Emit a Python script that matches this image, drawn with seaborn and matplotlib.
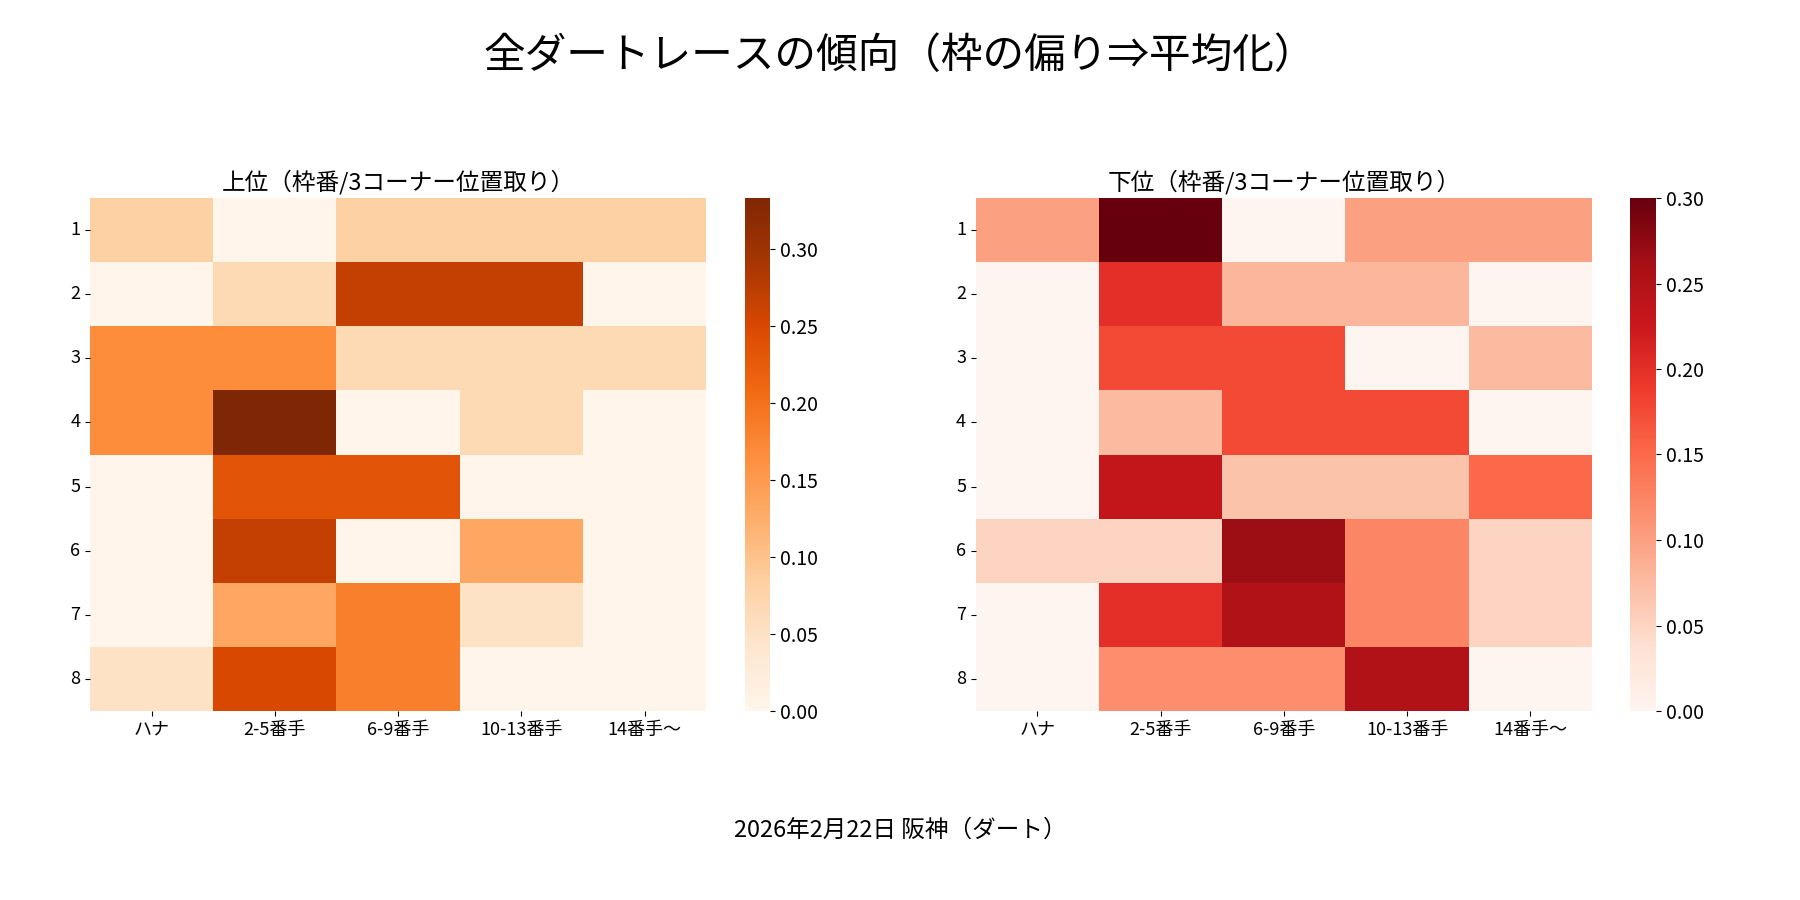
import numpy as np
import pandas as pd
import matplotlib
matplotlib.use('Agg')
import matplotlib.pyplot as plt
import seaborn as sns

# データ
gates = ['1', '2', '3', '4', '5', '6', '7', '8']
positions = ['ハナ', '2-5番手', '6-9番手', '10-13番手', '14番手〜']

upper_vals = [
    [0.083, 0.0, 0.083, 0.083, 0.083],
    [0.0, 0.067, 0.267, 0.267, 0.0],
    [0.167, 0.167, 0.067, 0.067, 0.067],
    [0.167, 0.333, 0.0, 0.067, 0.0],
    [0.0, 0.233, 0.233, 0.0, 0.0],
    [0.0, 0.267, 0.0, 0.133, 0.0],
    [0.0, 0.133, 0.183, 0.05, 0.0],
    [0.05, 0.25, 0.183, 0.0, 0.0],
]
lower_vals = [
    [0.1, 0.3, 0.0, 0.1, 0.1],
    [0.0, 0.2, 0.08, 0.08, 0.0],
    [0.0, 0.175, 0.175, 0.0, 0.075],
    [0.0, 0.075, 0.175, 0.175, 0.0],
    [0.0, 0.233, 0.067, 0.067, 0.15],
    [0.05, 0.05, 0.267, 0.125, 0.05],
    [0.0, 0.2, 0.25, 0.125, 0.05],
    [0.0, 0.117, 0.117, 0.25, 0.0],
]

df_up = pd.DataFrame(upper_vals, index=gates, columns=positions)
df_low = pd.DataFrame(lower_vals, index=gates, columns=positions)

plt.rcParams['font.family'] = ['Noto Sans CJK JP', 'DejaVu Sans']

fig, axes = plt.subplots(1, 2, figsize=(18, 9), dpi=100)
sns.heatmap(df_up, cmap='Oranges', ax=axes[0], vmin=0)
sns.heatmap(df_low, cmap='Reds', ax=axes[1], vmin=0)

axes[0].set_title('上位（枠番/3コーナー位置取り）', fontsize=17)
axes[1].set_title('下位（枠番/3コーナー位置取り）', fontsize=17)
for ax in axes:
    ax.tick_params(labelsize=13)
    ax.set_yticklabels(gates, rotation=0)
    ax.collections[0].colorbar.ax.tick_params(labelsize=14)

fig.suptitle('全ダートレースの傾向（枠の偏り⇒平均化）', fontsize=30, y=0.96)
fig.text(0.5, 0.07, '2026年2月22日 阪神（ダート）', ha='center', fontsize=17)
plt.subplots_adjust(left=0.05, right=0.97, top=0.78, bottom=0.21, wspace=0.15)
plt.savefig('out.png')
